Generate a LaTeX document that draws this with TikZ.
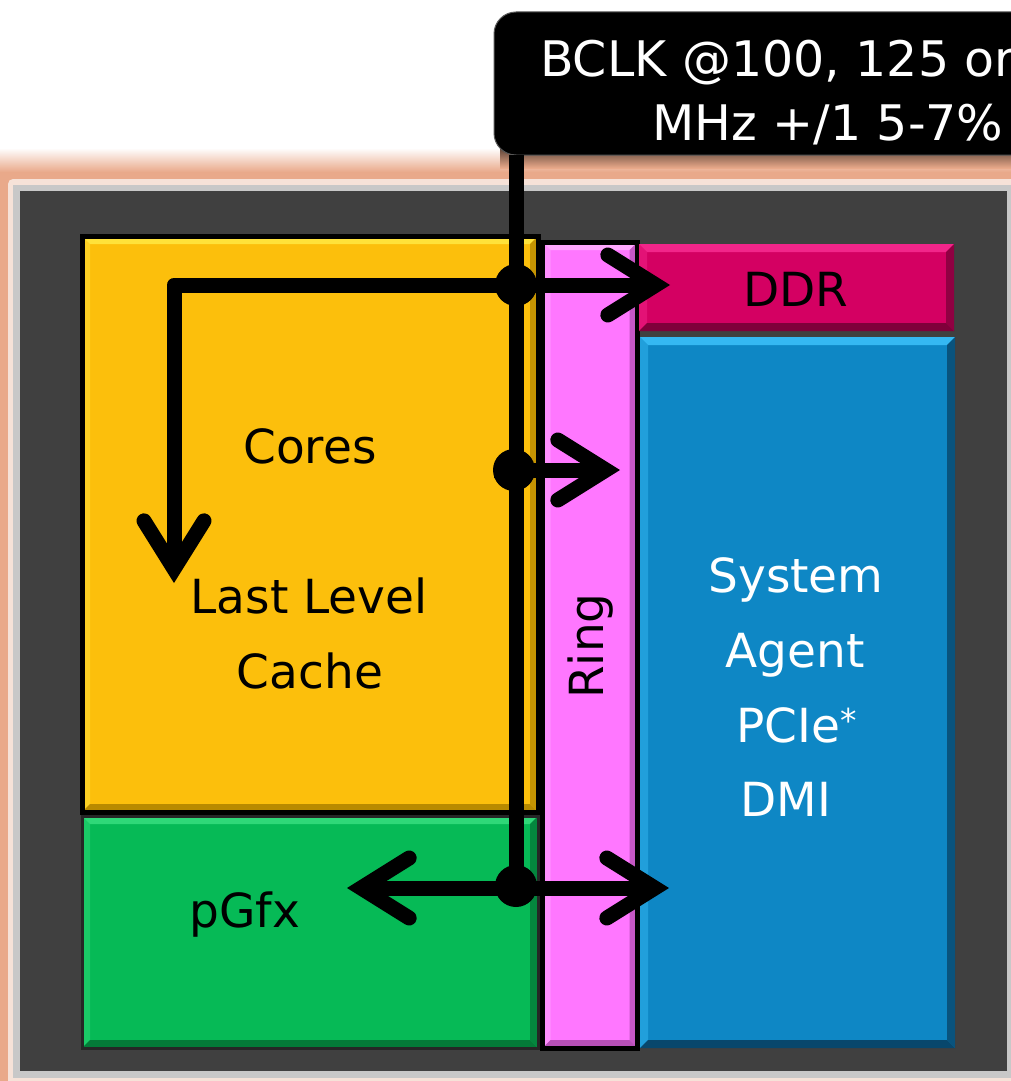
\documentclass[tikz,border=0pt]{standalone}
\usepackage{fontspec}
\setmainfont{DejaVu Sans}
\usetikzlibrary{arrows.meta,calc}
\definecolor{peach}{HTML}{E9A98A}
\definecolor{pinkish}{HTML}{F6E2D8}
\definecolor{frgray}{HTML}{C8C8C8}
\definecolor{bg}{HTML}{404040}
\definecolor{yel}{HTML}{FCBF0C}
\definecolor{yelL}{HTML}{FFE23A}
\definecolor{yelD}{HTML}{B88A00}
\definecolor{grn}{HTML}{06BA56}
\definecolor{grnL}{HTML}{2FD878}
\definecolor{grnD}{HTML}{047A38}
\definecolor{rng}{HTML}{FF77FF}
\definecolor{rngL}{HTML}{FFA8FF}
\definecolor{rngD}{HTML}{B850B8}
\definecolor{ddr}{HTML}{D40062}
\definecolor{ddrL}{HTML}{F2258A}
\definecolor{ddrD}{HTML}{80003A}
\definecolor{sa}{HTML}{0E87C5}
\definecolor{saL}{HTML}{35B8F2}
\definecolor{saD}{HTML}{08476C}
\tikzset{
  barb/.tip={Straight Barb[length=48pt,width=60pt,line cap=round,line join=miter]},
  bevel/.style 2 args={path picture={
    \fill[#1] (path picture bounding box.north west) -- (path picture bounding box.north east)
      -- ++(-8,8) -- ($(path picture bounding box.north west)+(8,8)$) -- cycle;
    \fill[#1,opacity=0.5] (path picture bounding box.north west) -- (path picture bounding box.south west)
      -- ++(8,-8) -- ($(path picture bounding box.north west)+(8,8)$) -- cycle;
    \fill[#2] (path picture bounding box.south west) -- (path picture bounding box.south east)
      -- ++(-8,-8) -- ($(path picture bounding box.south west)+(8,-8)$) -- cycle;
    \fill[#2,opacity=0.8] (path picture bounding box.north east) -- (path picture bounding box.south east)
      -- ++(-8,-8) -- ($(path picture bounding box.north east)+(-8,8)$) -- cycle;
  }},
  block/.style={rectangle, inner sep=0pt, outer sep=0pt},
  txt/.style={font=\fontsize{47}{56}\selectfont, anchor=base, inner sep=0pt},
  calltxt/.style={font=\fontsize{49}{58}\selectfont, text=white, anchor=base west, inner sep=0pt},
  clk/.style={line width=15pt, draw=black, line join=round},
  dot/.style={circle, fill=black, minimum size=42pt, inner sep=0pt}
}
\begin{document}
\begin{tikzpicture}[x=1pt,y=-1pt]
\useasboundingbox (0,0) rectangle (1011,1081);
% frame
\fill[white] (0,0) rectangle (1011,1081);
\shade[top color=white, bottom color=peach] (0,148) rectangle (1011,172);
\fill[peach] (0,172) rectangle (1011,1081);
\fill[pinkish, rounded corners=5pt] (8,179) rectangle (1030,1100);
\fill[frgray] (13,185) rectangle (1011,1078);
\fill[bg] (20,191) rectangle (1007,1071);
% callout
\shade[top color=black!85!peach, bottom color=peach] (500,140) rectangle (1011,168);
\node[block, fill=black, draw=black!65, line width=1pt, rounded corners=22pt,
  minimum width=546pt, minimum height=143pt] (callout) at (767,83.5) {};
\node[calltxt] (t1) at (540,76) {BCLK @100, 125 or};
\node[calltxt] (t2) at (652,140) {MHz +/1 5-7\%};
% blocks
\node[block, fill=yel, draw=black, line width=5pt, bevel={yelL}{yelD},
  minimum width=456pt, minimum height=576pt] (cores) at (310,524) {};
\node[block, fill=grn, draw=black!85, line width=3pt, bevel={grnL}{grnD},
  minimum width=456pt, minimum height=232pt] (gfx) at (310,932) {};
\node[block, fill=rng, draw=black, line width=5pt, bevel={rngL}{rngD},
  minimum width=95pt, minimum height=806pt] (ring) at (590,645) {};
\node[block, fill=ddr, bevel={ddrL}{ddrD},
  minimum width=315pt, minimum height=87pt] (ddr) at (796.5,287.5) {};
\node[block, fill=sa, bevel={saL}{saD},
  minimum width=315pt, minimum height=711pt] (sa) at (797.5,692.5) {};
% texts
\node[txt] (tcores) at (310,463) {Cores};
\node[txt] (tllc1) at (309,613) {Last Level};
\node[txt] (tllc2) at (310,688) {Cache};
\node[txt] (tgfx) at (245,927) {pGfx};
\node[txt] (tddr) at (796,306) {DDR};
\node[txt, rotate=90] (tring) at (603,646) {Ring};
\node[txt, white] (tsys) at (796,592) {System};
\node[txt, white] (tagent) at (795,667) {Agent};
\node[txt, white] (tpcie) at (797,742) {PCIe\textsuperscript{*}};
\node[txt, white] (tdmi) at (786,816) {DMI};
% clock distribution
\node[dot] (j1) at (516,285) {};
\node[dot] (j2) at (514,470) {};
\node[dot] (j3) at (516,886) {};
\coordinate (lltip) at (174,583);
\coordinate (ddrtip) at (670,285);
\coordinate (ringtip) at (620,470);
\coordinate (gfxtip) at (347,888);
\coordinate (satip) at (669,888);
\draw[clk] (j1 |- callout.south) -- (j3.center);
\draw[clk, -{barb}] (j1.center) -| (lltip);
\draw[clk, -{barb}] (j1.center) -- (ddrtip);
\draw[clk, -{barb}] ($(j2.center)+(-20,0)$) -- (ringtip);
\draw[clk, {barb}-{barb}] (gfxtip) -- (satip);
\end{tikzpicture}
\end{document}
